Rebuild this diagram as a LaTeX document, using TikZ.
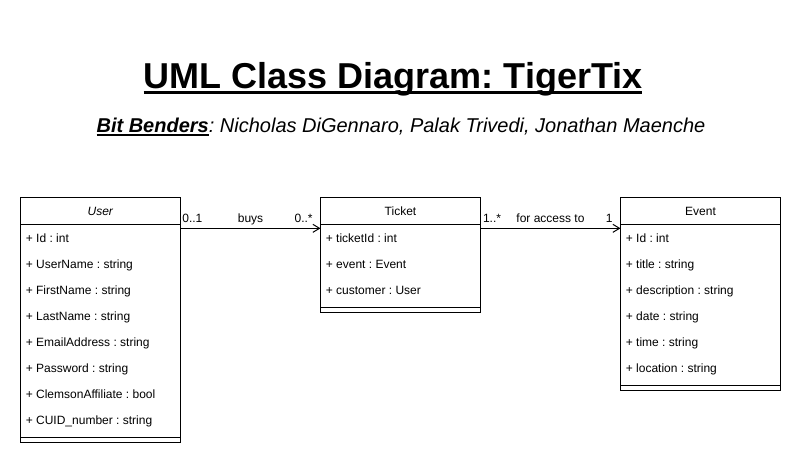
\documentclass[tikz,border=0pt]{standalone}
\usepackage{fontspec}
\setmainfont{Liberation Sans}
\usetikzlibrary{arrows.meta,positioning,shapes.multipart}
\frenchspacing

\newcommand{\namestrut}{\rule[-5pt]{0pt}{16.5pt}}
\newcommand{\fieldstrut}{\rule[-8pt]{0pt}{19.5pt}}
\newcommand{\underlined}[3]{\setbox0\hbox{#3}\rlap{\rule[-#1]{\wd0}{#2}}\box0}

\begin{document}
\begin{tikzpicture}[x=0.75pt,y=0.75pt,->,>={Straight Barb[length=5pt,width=6pt]},
line width=0.75pt]
\tikzstyle{umlclass}=[rectangle split, rectangle split parts=3, draw, -, minimum width=120pt,
inner xsep=4pt, inner ysep=1.5pt, outer sep=0pt, rectangle split part align={center,left,left},
font=\fontsize{9pt}{11pt}\selectfont]
\tikzstyle{mult}=[inner sep=0pt, yshift=4pt, font=\fontsize{9pt}{11pt}\selectfont]
\tikzstyle{role}=[mult, anchor=base]

\useasboundingbox (0,0) rectangle (801,460);

\node[anchor=base] (title) at (393,371) {\fontsize{27pt}{32pt}\selectfont\bfseries
\underlined{3.4pt}{1.9pt}{UML Class Diagram: TigerTix}};
\node[anchor=base] (credits) at (401,327) {\fontsize{15pt}{18pt}\selectfont\itshape
\underlined{2.3pt}{1.2pt}{\bfseries Bit Benders}: Nicholas DiGennaro, Palak Trivedi, Jonathan Maenche};

\node[umlclass] (user) at (20.5,262) [anchor=north west] {\namestrut\textit{User}
\nodepart{two}\begin{tabular}{@{}l@{}}
\fieldstrut+ Id : int\\
\fieldstrut+ UserName : string\\
\fieldstrut+ FirstName : string\\
\fieldstrut+ LastName : string\\
\fieldstrut+ EmailAddress : string\\
\fieldstrut+ Password : string\\
\fieldstrut+ ClemsonAffiliate : bool\\
\fieldstrut+ CUID\_number : string
\end{tabular}
\nodepart{three}\rule{1pt}{0pt}};
\node[umlclass] (ticket) [right=105pt of user.north east, anchor=north west] {\namestrut Ticket
\nodepart{two}\begin{tabular}{@{}l@{}}
\fieldstrut+ ticketId : int\\
\fieldstrut+ event : Event\\
\fieldstrut+ customer : User
\end{tabular}
\nodepart{three}\rule{1pt}{0pt}};
\node[umlclass] (event) [right=105pt of ticket.north east, anchor=north west] {\namestrut Event
\nodepart{two}\begin{tabular}{@{}l@{}}
\fieldstrut+ Id : int\\
\fieldstrut+ title : string\\
\fieldstrut+ description : string\\
\fieldstrut+ date : string\\
\fieldstrut+ time : string\\
\fieldstrut+ location : string
\end{tabular}
\nodepart{three}\rule{1pt}{0pt}};

\draw ([yshift=-2.5pt]user.text split east) -- ([yshift=-2.5pt]ticket.text split west)
node[mult, pos=0, anchor=base west, xshift=1pt] {0..1}
node[role, midway] {buys}
node[mult, pos=1, anchor=base east, xshift=-5.5pt] {0..*};
\draw ([yshift=-2.5pt]ticket.text split east) -- ([yshift=-2.5pt]event.text split west)
node[mult, pos=0, anchor=base west, xshift=1.5pt] {1..*}
node[role, midway] {for access to}
node[mult, pos=1, anchor=base east, xshift=-5.5pt] {1};
\end{tikzpicture}
\end{document}
